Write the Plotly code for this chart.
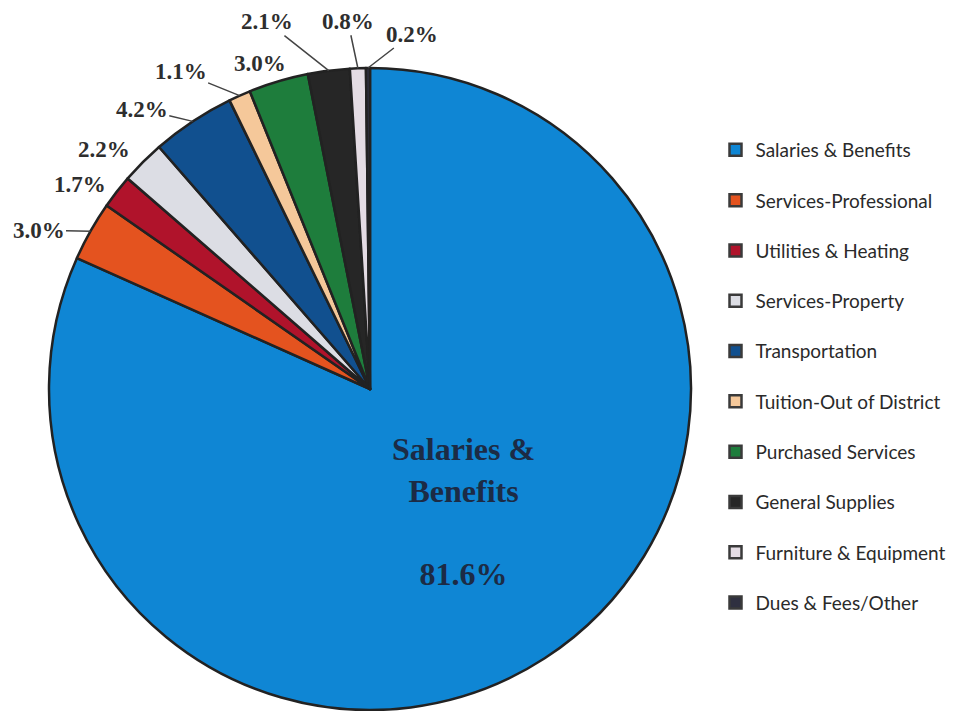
import math
import plotly.graph_objects as go

categories = ["Salaries & Benefits", "Services-Professional", "Utilities & Heating",
              "Services-Property", "Transportation", "Tuition-Out of District",
              "Purchased Services", "General Supplies", "Furniture & Equipment",
              "Dues & Fees/Other"]
values = [81.6, 3.0, 1.7, 2.2, 4.2, 1.1, 3.0, 2.1, 0.8, 0.2]

colors = ["#0f86d4", "#e4531f", "#b0132b", "#dcdde4", "#11508f",
          "#f5c89a", "#1e7d3c", "#262626", "#e4dce4", "#2f3040"]

# label offsets (px) from the slice edge, and whether a leader line is drawn
label_offsets = [None, (-52, -1), (-37, -7), (-39, -13), (-51, -12), (-59, -24),
                 (-18, -18), (-62, -49), (-10, -47), (44, -34)]
leader = [False, True, False, False, True, True, False, True, True, True]

W, H = 954, 711
dom_x = [48 / W, 692 / W]
dom_y = [1 / H, 643 / H]

fig = go.Figure()
fig.add_trace(go.Pie(
    labels=categories, values=values, sort=False, direction="clockwise",
    rotation=0, textinfo="none", hoverinfo="label+percent",
    marker=dict(colors=colors, line=dict(color="#222222", width=2.5)),
    domain=dict(x=dom_x, y=dom_y), showlegend=False,
))

# legend via legend-only entries
for i, (c, col) in enumerate(zip(categories, colors)):
    fig.add_trace(go.Scatter(
        x=[None], y=[None], mode="markers", name=c, legendgroup=str(i),
        marker=dict(symbol="square", size=12, color=col,
                    line=dict(color="#3a3a3a", width=2.5)),
    ))

# geometry of the pie in pixels
cx = (dom_x[0] + dom_x[1]) / 2 * W
cy_from_bottom = (dom_y[0] + dom_y[1]) / 2 * H
r = min((dom_x[1] - dom_x[0]) * W, (dom_y[1] - dom_y[0]) * H) / 2

total = sum(values)
cum = 0.0
annotations = []
for i, v in enumerate(values):
    mid = (cum + v / 2) / total * 2 * math.pi
    cum += v
    if label_offsets[i] is None:
        continue
    px = cx + r * math.sin(mid)
    py = cy_from_bottom + r * math.cos(mid)
    ax, ay = label_offsets[i]
    annotations.append(dict(
        x=px / W, y=py / H, xref="paper", yref="paper",
        text=f"<b>{v:.1f}%</b>", showarrow=True, arrowhead=0, ax=ax, ay=ay,
        arrowwidth=1.5,
        arrowcolor="#444444" if leader[i] else "rgba(0,0,0,0)",
        standoff=0, startstandoff=0,
        font=dict(family="Liberation Serif", size=23, color="#2e2e2e"),
    ))

annotations.append(dict(
    x=cx / W, y=cy_from_bottom / H, xref="paper", yref="paper",
    xshift=93, yshift=-122, showarrow=False,
    text=f"<b>{categories[0].replace(' & ', ' &<br>')}<br><br>{values[0]:.1f}%</b>",
    font=dict(family="Liberation Serif", size=32, color="#1c2b45"),
))

fig.update_layout(
    width=W, height=H, margin=dict(l=0, r=0, t=0, b=0),
    paper_bgcolor="white", plot_bgcolor="white",
    xaxis=dict(visible=False), yaxis=dict(visible=False),
    annotations=annotations,
    legend=dict(x=0.75, y=1 - 131 / H, xanchor="left", yanchor="top",
                font=dict(family="Lato", size=19, color="#2a2a2a"),
                tracegroupgap=22.6, itemwidth=30, bgcolor="rgba(0,0,0,0)"),
)

fig.write_html("out.html")
